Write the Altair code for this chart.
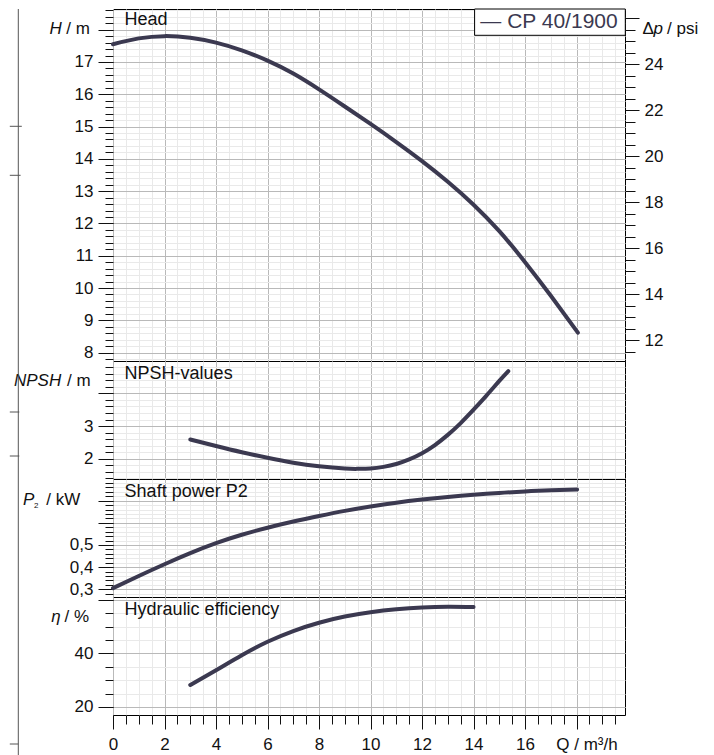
import altair as alt
import pandas as pd

# ---------------- data ----------------
series_name = "CP 40/1900"

q_head = [0, 1, 2, 3, 4, 5, 6, 7, 8, 9, 10, 11, 12, 13, 14, 15, 16, 17, 18.05]
head_m = [17.55, 17.73, 17.80, 17.75, 17.60, 17.36, 17.04, 16.64, 16.15, 15.62,
          15.08, 14.52, 13.93, 13.29, 12.58, 11.76, 10.80, 9.76, 8.62]

q_npsh = [3, 4, 5, 6, 7, 8, 9, 9.5, 10, 10.5, 11, 11.5, 12, 12.5, 13, 13.5, 14, 14.5, 15, 15.35]
npsh_m = [2.59, 2.39, 2.2, 2.03, 1.88, 1.77, 1.70, 1.69, 1.70, 1.75, 1.84, 1.98,
          2.17, 2.42, 2.73, 3.09, 3.50, 3.93, 4.38, 4.68]

q_power = [0, 1, 2, 3, 4, 5, 6, 7, 8, 9, 10, 11, 12, 13, 14, 15, 16, 17, 18.02]
power_kw = [0.305, 0.36, 0.413, 0.463, 0.508, 0.546, 0.578, 0.606, 0.631, 0.654,
            0.674, 0.691, 0.705, 0.717, 0.727, 0.735, 0.742, 0.747, 0.751]

q_eff = [3, 4, 5, 6, 7, 8, 9, 10, 11, 12, 13, 14]
eff_pct = [28.2, 33.7, 39.3, 44.3, 48.3, 51.4, 53.7, 55.3, 56.4, 57.1, 57.4, 57.3]

# axis ranges and tick positions
x_domain = [0, 19.88]
head_domain = [7.74, 18.64]
psi_domain = [11.10, 26.40]
npsh_domain = [1.38, 4.99]
power_domain = [0.265, 0.798]
eff_domain = [17.0, 61.0]

x_major = [0, 2, 4, 6, 8, 10, 12, 14, 16, 18]
head_major = [8, 9, 10, 11, 12, 13, 14, 15, 16, 17, 18]
psi_major = [12, 14, 16, 18, 20, 22, 24, 26]
npsh_major = [2, 3, 4]
power_major = [0.3, 0.4, 0.5, 0.6, 0.7, 0.8]
eff_major = [20, 40, 60]

PSI_PER_M = 1.42233

# ---------------- style ----------------
FONT = "Liberation Sans"
INK = "#111111"
CURVE = "#3b3950"
GRID_MINOR = "#e9e9e9"
GRID_MAJOR = "#b9b9b9"
DECO = "#555555"
W = 512
H_HEAD, H_NPSH, H_POW, H_EFF = 352, 118, 118, 118
INTERP = "natural"


def steps(start, stop, step, nd=3):
    n = int(round((stop - start) / step))
    return [round(start + i * step, nd) for i in range(n + 1)]


x_minor = steps(0, 19.5, 0.5)
head_minor = steps(7.8, 18.6, 0.2)
psi_minor = steps(11.5, 26.0, 0.5)
npsh_minor = steps(1.4, 5.0, 0.2)
power_minor = steps(0.28, 0.8, 0.02)
eff_minor = steps(20, 60, 5)


def axis(orient, values, tick_size=0, grid_color=None, label_expr=None, pad=5):
    kw = dict(orient=orient, values=values, domain=False, title=None,
              tickColor=INK, tickWidth=1, labelFlush=False, labelOverlap=False)
    if tick_size > 0:
        kw.update(ticks=True, tickSize=tick_size)
    else:
        kw.update(ticks=False)
    if grid_color:
        kw.update(grid=True, gridColor=grid_color, gridWidth=1)
    else:
        kw.update(grid=False)
    if label_expr:
        kw.update(labels=True, labelExpr=label_expr, labelFont=FONT, labelFontSize=17,
                  labelColor=INK, labelPadding=pad)
    else:
        kw.update(labels=False)
    return alt.Axis(**kw)


def sc(dom):
    return alt.Scale(domain=dom, nice=False, zero=False)


def guide(df, yf, ydom, x_ax, y_ax):
    return alt.Chart(df).mark_line(strokeOpacity=0).encode(
        x=alt.X("q:Q", scale=sc(x_domain), axis=x_ax),
        y=alt.Y(f"{yf}:Q", scale=sc(ydom), axis=y_ax),
    )


def curve(df, yf, ydom):
    return alt.Chart(df).mark_line(
        color=CURVE, strokeWidth=4, strokeCap="round", strokeJoin="round",
        interpolate=INTERP
    ).encode(
        x=alt.X("q:Q", scale=sc(x_domain), axis=None),
        y=alt.Y(f"{yf}:Q", scale=sc(ydom), axis=None),
    )


def txt(s, x, y, size=17, italic=False, color=INK):
    return alt.Chart(pd.DataFrame({"t": [s]})).mark_text(
        align="left", baseline="alphabetic", font=FONT, fontSize=size,
        fontStyle="italic" if italic else "normal", color=color
    ).encode(x=alt.value(x), y=alt.value(y), text="t:N")


def rule(x1, x2, y1, y2):
    return alt.Chart(pd.DataFrame({"r": [0]})).mark_rule(color=DECO, strokeWidth=1).encode(
        x=alt.value(x1), x2=alt.value(x2), y=alt.value(y1), y2=alt.value(y2))


def x_axes(bottom):
    if bottom:
        return (axis("bottom", x_minor, 9, GRID_MINOR),
                axis("bottom", x_major, 14, GRID_MAJOR,
                     "datum.value <= 16 ? format(datum.value, 'd') : ''", pad=7))
    return (axis("bottom", x_minor, 0, GRID_MINOR),
            axis("bottom", x_major, 0, GRID_MAJOR))


LEFT_EDGE = -103.2
VLINE_X = -94.7

# ---------------- head panel ----------------
head_df = pd.DataFrame({"q": q_head, "h": head_m})
xm, xM = x_axes(False)
head_layers = [
    guide(head_df, "h", head_domain, xm, axis("left", head_minor, 8, GRID_MINOR)),
    guide(head_df, "h", head_domain, xM,
          axis("left", head_major, 15, GRID_MAJOR, "datum.value <= 17 ? format(datum.value, 'd') : ''")),
    alt.Chart(head_df).transform_calculate(psi=f"datum.h * {PSI_PER_M}").mark_line(strokeOpacity=0).encode(
        x=alt.X("q:Q", scale=sc(x_domain), axis=None),
        y=alt.Y("psi:Q", scale=sc(psi_domain), axis=axis("right", psi_minor, 10))),
    alt.Chart(head_df).transform_calculate(psi=f"datum.h * {PSI_PER_M}").mark_line(strokeOpacity=0).encode(
        x=alt.X("q:Q", scale=sc(x_domain), axis=None),
        y=alt.Y("psi:Q", scale=sc(psi_domain),
                axis=axis("right", psi_major, 14, None, "datum.value <= 24 ? format(datum.value, 'd') : ''"))),
    curve(head_df, "h", head_domain),
    txt("Head", 11.6, 16, 18),
    txt("H", -63.4, 25.3, italic=True),
    txt("/ m", -46.7, 25.3),
    txt("Δ", 529.6, 25.3),
    txt("p", 540.5, 25.3, italic=True),
    txt("/ psi", 554, 25.3),
    rule(VLINE_X, VLINE_X, 0, H_HEAD),
    rule(LEFT_EDGE, -91.2, 117.3, 117.3),
    rule(LEFT_EDGE, -92.4, 166.3, 166.3),
    alt.Chart(pd.DataFrame({"r": [0]})).mark_rect(fill="white", stroke="black", strokeWidth=1).encode(
        x=alt.value(361.6), x2=alt.value(512.3), y=alt.value(0), y2=alt.value(26.3)),
    txt("— " + series_name, 367.3, 18.7, 21, color=CURVE),
]
head = alt.layer(*head_layers).resolve_scale(x="independent", y="independent").properties(
    width=W, height=H_HEAD)

# ---------------- NPSH panel ----------------
npsh_df = pd.DataFrame({"q": q_npsh, "n": npsh_m})
xm, xM = x_axes(False)
npsh = alt.layer(
    guide(npsh_df, "n", npsh_domain, xm, axis("left", npsh_minor, 8, GRID_MINOR)),
    guide(npsh_df, "n", npsh_domain, xM,
          axis("left", npsh_major, 15, GRID_MAJOR, "datum.value <= 3 ? format(datum.value, 'd') : ''")),
    curve(npsh_df, "n", npsh_domain),
    txt("NPSH-values", 11.6, 17.7, 18),
    txt("NPSH", -99, 25, italic=True),
    txt("/ m", -46, 25),
    rule(VLINE_X, VLINE_X, 0, H_NPSH),
    rule(LEFT_EDGE, -93.7, 51, 51),
    rule(LEFT_EDGE, -93.7, 95, 95),
).resolve_scale(x="independent", y="independent").properties(width=W, height=H_NPSH)

# ---------------- power panel ----------------
pow_df = pd.DataFrame({"q": q_power, "p": power_kw})
xm, xM = x_axes(False)
power = alt.layer(
    guide(pow_df, "p", power_domain, xm, axis("left", power_minor, 8, GRID_MINOR)),
    guide(pow_df, "p", power_domain, xM,
          axis("left", power_major, 15, GRID_MAJOR,
               "datum.value <= 0.51 ? replace(format(datum.value, '.1f'), '.', ',') : ''")),
    curve(pow_df, "p", power_domain),
    txt("Shaft power P2", 11.6, 18, 18),
    txt("P", -90, 26.3, italic=True),
    txt("2", -79, 28.7, 8),
    txt("/ kW", -66.7, 26.3),
    rule(VLINE_X, VLINE_X, 0, H_POW),
).resolve_scale(x="independent", y="independent").properties(width=W, height=H_POW)

# ---------------- efficiency panel ----------------
eff_df = pd.DataFrame({"q": q_eff, "e": eff_pct})
xm, xM = x_axes(True)
eff = alt.layer(
    guide(eff_df, "e", eff_domain, xm, axis("left", eff_minor, 8, GRID_MINOR)),
    guide(eff_df, "e", eff_domain, xM,
          axis("left", eff_major, 15, GRID_MAJOR, "datum.value <= 40 ? format(datum.value, 'd') : ''")),
    curve(eff_df, "e", eff_domain),
    txt("Hydraulic efficiency", 11.6, 18, 18),
    txt("η", -61.7, 25, italic=True),
    txt("/ %", -48.4, 25),
    txt("Q / m³/h", 443.3, 153.3),
    rule(VLINE_X, VLINE_X, 0, 159),
    rule(LEFT_EDGE, -94.7, 147, 147),
).resolve_scale(x="independent", y="independent").properties(width=W, height=H_EFF)

chart = alt.vconcat(head, npsh, power, eff, spacing=0, bounds="flush", padding=0).configure_view(
    stroke="black", strokeWidth=1
)

chart.save("out.html", embed_options={"renderer": "svg", "actions": False})
